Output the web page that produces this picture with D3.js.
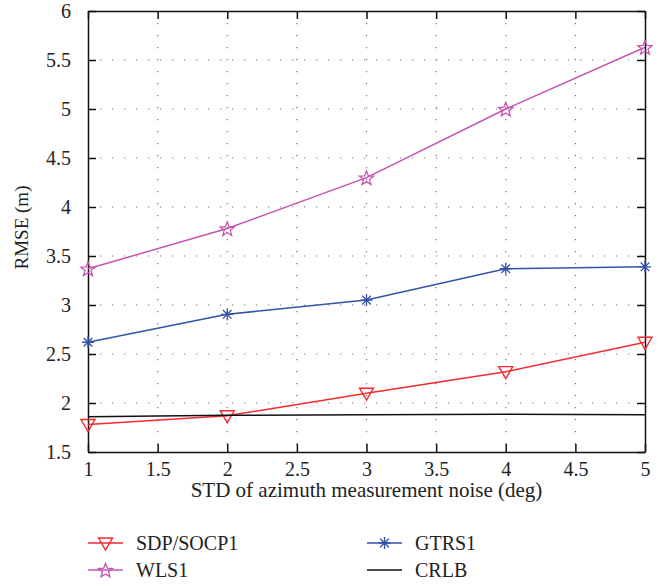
<!DOCTYPE html>
<html>
<head>
<meta charset="utf-8">
<script src="https://cdn.jsdelivr.net/npm/d3@7"></script>
<style>
  body { margin: 0; background: #fff; }
  text { font-family: "Liberation Serif", "Times New Roman", serif; fill: #222; }
</style>
</head>
<body>
<div id="chart"></div>
<script>
var svgWidth = 668;
var svgHeight = 586;

var margin = { top: 11, right: 23, bottom: 134, left: 88 };
var width = svgWidth - margin.left - margin.right;
var height = svgHeight - margin.top - margin.bottom;

// data
var noiseStd = [1, 2, 3, 4, 5];
var sdpSocp = [1.78, 1.87, 2.10, 2.32, 2.62];
var wls = [3.37, 3.78, 4.30, 5.00, 5.63];
var gtrs = [2.62, 2.905, 3.05, 3.37, 3.39];
var crlb = [1.86, 1.875, 1.88, 1.885, 1.88];
var xTicks = [1, 1.5, 2, 2.5, 3, 3.5, 4, 4.5, 5];
var yTicks = [1.5, 2, 2.5, 3, 3.5, 4, 4.5, 5, 5.5, 6];

var series = [
  { name: "SDP/SOCP1", values: sdpSocp, color: "#f42a2f", marker: "tri" },
  { name: "WLS1", values: wls, color: "#c455b0", marker: "star" },
  { name: "GTRS1", values: gtrs, color: "#3553a6", marker: "ast" },
  { name: "CRLB", values: crlb, color: "#111", marker: null }
];

var svg = d3.select("#chart")
  .append("svg")
  .attr("width", svgWidth)
  .attr("height", svgHeight);

var chartGroup = svg.append("g")
  .attr("transform", `translate(${margin.left}, ${margin.top})`);

var x = d3.scaleLinear().domain([1, 5]).range([0, width]);
var y = d3.scaleLinear().domain([1.5, 6]).range([height, 0]);

// dotted grid
chartGroup.append("g")
  .selectAll("line")
  .data(xTicks.slice(1, -1))
  .enter()
  .append("line")
  .attr("x1", d => x(d)).attr("x2", d => x(d))
  .attr("y1", 0).attr("y2", height)
  .attr("stroke", "#777")
  .attr("stroke-width", 1.2)
  .attr("stroke-dasharray", "1.2,10.8");

chartGroup.append("g")
  .selectAll("line")
  .data(yTicks.slice(1, -1))
  .enter()
  .append("line")
  .attr("x1", 0).attr("x2", width)
  .attr("y1", d => y(d)).attr("y2", d => y(d))
  .attr("stroke", "#777")
  .attr("stroke-width", 1.2)
  .attr("stroke-dasharray", "1.2,10.8");

// axes with inward ticks on all four sides
var bottomAxis = d3.axisBottom(x).tickValues(xTicks).tickSizeInner(-8).tickSizeOuter(0).tickPadding(10).tickFormat(d3.format("~g"));
var leftAxis = d3.axisLeft(y).tickValues(yTicks).tickSizeInner(-8).tickSizeOuter(0).tickPadding(17).tickFormat(d3.format("~g"));
var topAxis = d3.axisTop(x).tickValues(xTicks).tickSizeInner(-8).tickSizeOuter(0).tickFormat("");
var rightAxis = d3.axisRight(y).tickValues(yTicks).tickSizeInner(-8).tickSizeOuter(0).tickFormat("");

function styleAxis(g) {
  g.attr("font-family", "'Liberation Serif', serif").attr("font-size", 20);
  g.selectAll("path").attr("stroke", "#111").attr("stroke-width", 1.5);
  g.selectAll("line").attr("stroke", "#111").attr("stroke-width", 1.5);
  g.selectAll("text").attr("font-size", "20px").attr("fill", "#222")
    .style("font-family", "'Liberation Serif', serif");
}

chartGroup.append("g").attr("transform", `translate(0, ${height})`).call(bottomAxis).call(styleAxis);
chartGroup.append("g").call(leftAxis).call(styleAxis);
chartGroup.append("g").call(topAxis).call(styleAxis);
chartGroup.append("g").attr("transform", `translate(${width}, 0)`).call(rightAxis).call(styleAxis);

// markers
function drawMarker(g, type, color) {
  if (type === "tri") {
    g.append("path").attr("d", "M-7,-5 L7,-5 L0,7 Z")
      .attr("fill", "none").attr("stroke", color).attr("stroke-width", 1.4);
  } else if (type === "star") {
    var pts = [];
    for (var i = 0; i < 10; i++) {
      var r = i % 2 === 0 ? 7.5 : 3.2;
      var a = -Math.PI / 2 + i * Math.PI / 5;
      pts.push([r * Math.cos(a), r * Math.sin(a) + 0.8]);
    }
    g.append("path").attr("d", "M" + pts.join("L") + "Z")
      .attr("fill", "none").attr("stroke", color).attr("stroke-width", 1.3);
  } else if (type === "ast") {
    var s = 6;
    var d = s * 0.72;
    g.append("path")
      .attr("d", `M0,${-s}V${s}M${-s},0H${s}M${-d},${-d}L${d},${d}M${-d},${d}L${d},${-d}`)
      .attr("stroke", color).attr("stroke-width", 1.3);
  }
}

var line = d3.line()
  .x((d, i) => x(noiseStd[i]))
  .y(d => y(d));

series.forEach(s => {
  chartGroup.append("path")
    .datum(s.values)
    .attr("fill", "none")
    .attr("stroke", s.color)
    .attr("stroke-width", 1.5)
    .attr("d", line);

  if (s.marker) {
    s.values.forEach((v, i) => {
      var g = chartGroup.append("g")
        .attr("transform", `translate(${x(noiseStd[i])}, ${y(v)})`);
      drawMarker(g, s.marker, s.color);
    });
  }
});

// axis labels
chartGroup.append("text")
  .attr("transform", "rotate(-90)")
  .attr("x", -height / 2 + 4)
  .attr("y", -margin.left + 28)
  .attr("text-anchor", "middle")
  .attr("font-size", "19px")
  .text("RMSE (m)");

chartGroup.append("text")
  .attr("x", width / 2)
  .attr("y", height + 45)
  .attr("text-anchor", "middle")
  .attr("font-size", "21px")
  .text("STD of azimuth measurement noise (deg)");

// legend
var legendPos = [[88, 543], [88, 570], [367, 543], [367, 570]];
series.forEach((s, i) => {
  var lg = svg.append("g")
    .attr("transform", `translate(${legendPos[i][0]}, ${legendPos[i][1]})`);
  lg.append("line")
    .attr("x1", 0).attr("x2", 35)
    .attr("y1", 0).attr("y2", 0)
    .attr("stroke", s.color)
    .attr("stroke-width", 1.5);
  if (s.marker) {
    var mg = lg.append("g").attr("transform", "translate(17.5, 0)");
    drawMarker(mg, s.marker, s.color);
  }
  lg.append("text")
    .attr("x", 48)
    .attr("y", 7)
    .attr("font-size", "20px")
    .text(s.name);
});
</script>
</body>
</html>
